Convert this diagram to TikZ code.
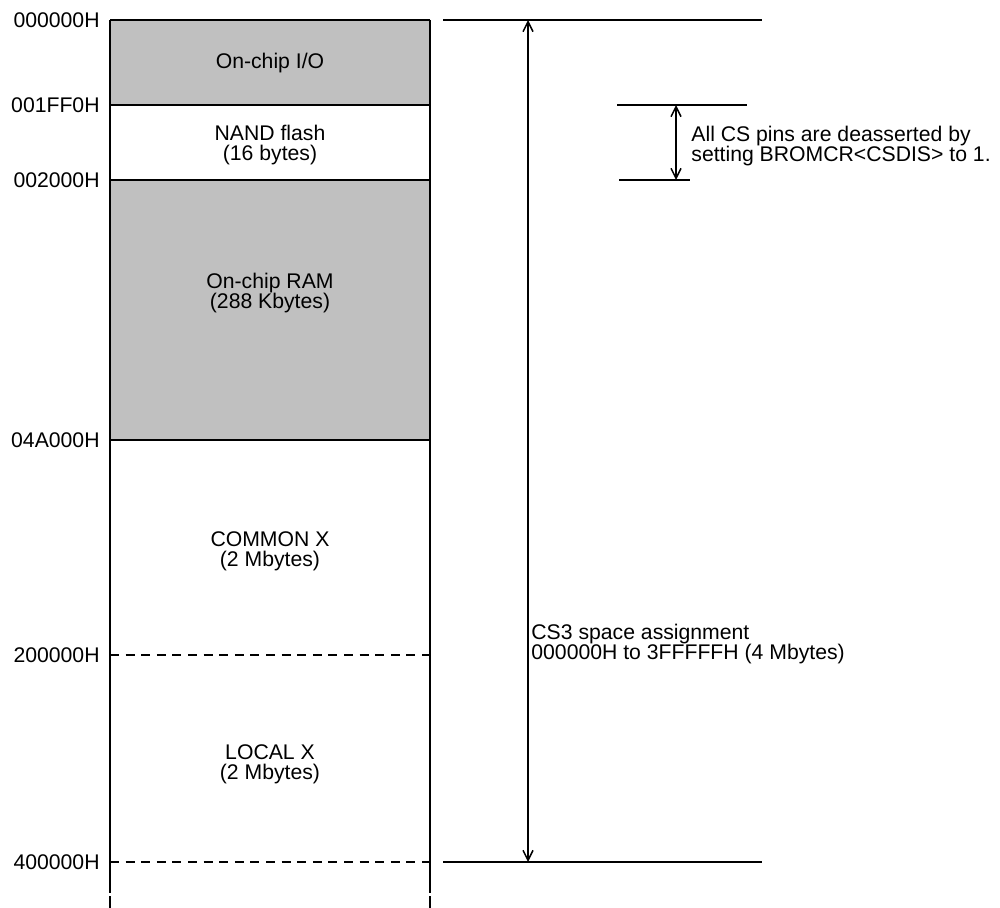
\documentclass[tikz,border=0pt]{standalone}
\usepackage{fontspec}
\setmainfont{Liberation Sans}
\usetikzlibrary{positioning,arrows.meta}
\definecolor{regiongray}{HTML}{C0C0C0}

\begin{document}
\begin{tikzpicture}[
    x=0.5pt, y=-0.5pt,
    font=\fontsize{10.6}{10}\selectfont,
    addr/.style={anchor=east, inner sep=0pt},
    lbl/.style={align=center, inner sep=0pt},
    note/.style={anchor=west, align=left, inner sep=0pt},
    edge/.style={line width=0.75pt},
    bound/.style={dash pattern=on 4.5pt off 3.3pt, line width=0.6pt},
    dimarrow/.style={{Straight Barb[length=5pt,width=5pt]}-{Straight Barb[length=5pt,width=5pt]}, line width=0.75pt},
  ]
  \useasboundingbox (0,0) rectangle (1000,908);

  % ---------- filled regions ----------
  \fill[regiongray] (110,20) rectangle (430,105);
  \fill[regiongray] (110,180) rectangle (430,440);

  % ---------- address labels ----------
  \foreach \y/\t in {20/000000H, 105/001FF0H, 180/002000H, 440/04A000H, 655/200000H, 862/400000H}
    \node[addr] (a\y) at (100,\y) {\t};

  % ---------- region boundaries ----------
  \foreach \y in {20,105,180,440,655,862} {
    \coordinate (l\y) at (110,\y);
    \coordinate (r\y) at (430,\y);
  }
  \draw[edge] (l20) -- (r20);
  \draw[edge] (l105) -- (r105);
  \draw[edge, line width=1.1pt] (l180) -- (r180);
  \draw[edge] (l440) -- (r440);
  \draw[bound] (l655) -- (r655);
  \draw[bound] (l862) -- (r862);

  % ---------- map sides, broken at the bottom ----------
  \coordinate (lcut) at (110,893);
  \coordinate (rcut) at (430,893);
  \draw[edge] (l20) -- (lcut);
  \draw[edge] (r20) -- (rcut);
  \draw[edge] (110,896) -- (110,908);
  \draw[edge] (430,896) -- (430,908);

  % ---------- region names ----------
  \node[lbl] (io) at (270,63) {On-chip I/O};
  \node[lbl] (nand) at (270,145) {NAND flash\\(16 bytes)};
  \node[lbl] (ram) at (270,293) {On-chip RAM\\(288 Kbytes)};
  \node[lbl] (commonx) at (270,551) {COMMON X\\(2 Mbytes)};
  \node[lbl] (localx) at (270,764) {LOCAL X\\(2 Mbytes)};

  % ---------- CS3 space ----------
  \coordinate (cs3l) at (443,20);  \coordinate (cs3r) at (762,20);
  \coordinate (cs3bl) at (443,862); \coordinate (cs3br) at (762,862);
  \draw[edge] (cs3l) -- (cs3r);
  \draw[edge] (cs3bl) -- (cs3br);
  \coordinate (cs3top) at (528,20);
  \coordinate (cs3bot) at (528,862);
  \draw[dimarrow] (cs3top) -- (cs3bot);
  \node[note] (cs3) at (531,644) {CS3 space assignment\\000000H to 3FFFFFH (4 Mbytes)};

  % ---------- CS deassert window ----------
  \coordinate (dl) at (617,105); \coordinate (dr) at (747,105);
  \coordinate (dbl) at (619,180); \coordinate (dbr) at (690,180);
  \draw[edge] (dl) -- (dr);
  \draw[edge] (dbl) -- (dbr);
  \coordinate (dtop) at (676,105);
  \coordinate (dbot) at (676,180);
  \draw[dimarrow] (dtop) -- (dbot);
  \node[note] (csdis) at (691,146) {All CS pins are deasserted by\\setting BROMCR<CSDIS> to 1.};

\end{tikzpicture}
\end{document}
